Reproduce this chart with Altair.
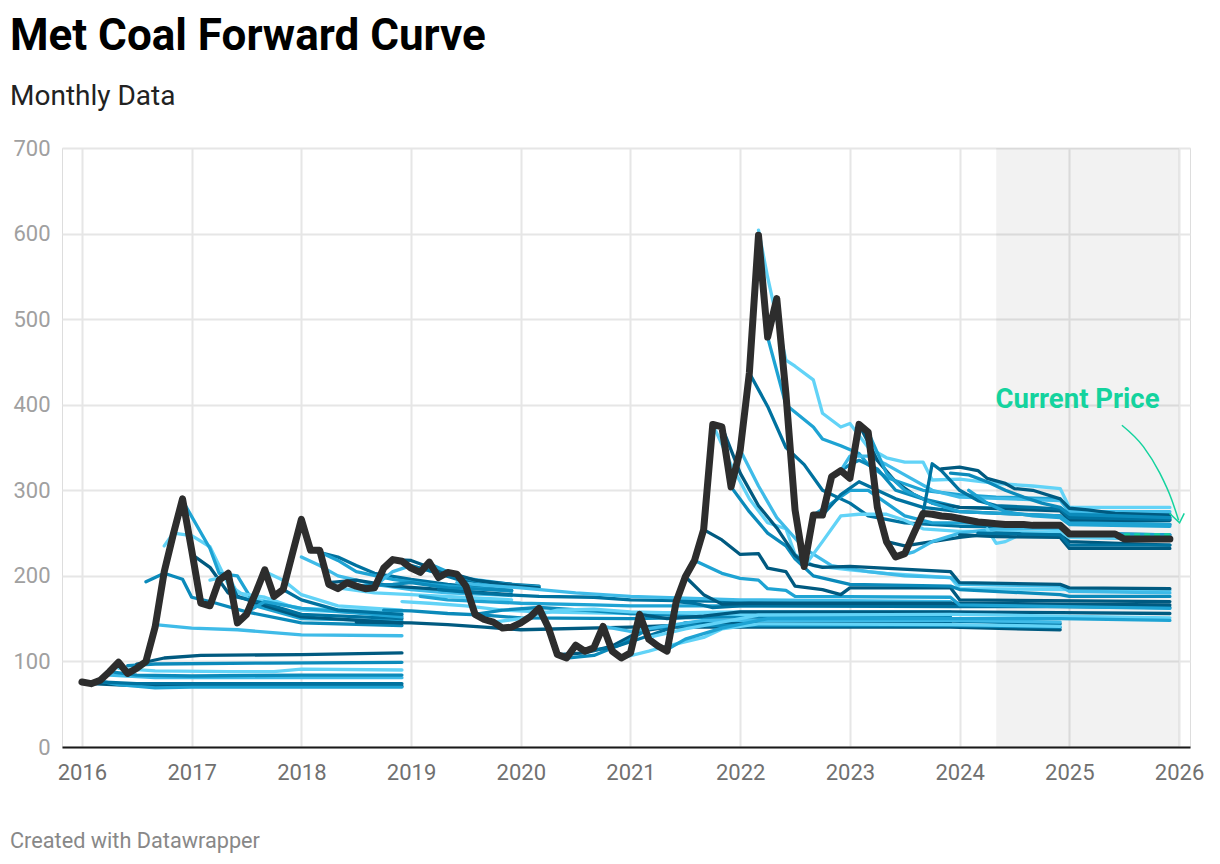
import altair as alt
import pandas as pd

TITLE = "Met Coal Forward Curve"
SUBTITLE = "Monthly Data"
FOOTER = "Created with Datawrapper"
ANNOTATION = "Current Price"

START_YEAR = 2016  # month index 0 = Jan 2016

# Spot / current price (black line), one value per month from Jan 2016
SPOT = [
    76, 74, 78, 88, 99, 86, 92, 100, 140, 205, 249, 290,
    230, 168, 165, 195, 203, 145, 155, 180, 207, 176, 184, 225,
    266, 230, 230, 190, 185, 192, 188, 185, 186, 209, 219, 217,
    209, 204, 216, 198, 204, 202, 188, 155, 149, 146, 139, 140,
    145, 152, 162, 140, 108, 104, 119, 112, 116, 141, 112, 104,
    110, 155, 126, 118, 112, 170, 199, 218, 254, 377, 374, 304,
    347, 437, 598, 479, 524, 413, 277, 211, 271, 271, 316, 323,
    314, 377, 368, 280, 240, 222, 226, 250, 273, 272, 270, 269,
    267, 265, 263, 262, 261, 260, 260, 260, 259, 259, 259, 259,
    249, 249, 249, 249, 249, 249, 243, 243, 243, 243, 243, 243,
]

# Forward curves: month indices and prices at the points where each curve bends
CURVE_MONTHS = [
    [1, 5, 12, 35], [2, 4, 8, 12, 35], [2, 6, 35], [3, 8, 20, 35],
    [3, 6, 12, 24, 35], [4, 8, 16, 21, 24, 35], [5, 8, 20, 35], [6, 9, 13, 24, 35],
    [8, 12, 17, 24, 35], [7, 9, 11, 12, 14, 18, 24, 35], [9, 10, 12, 14, 16, 18, 24, 35],
    [11, 14, 15, 17, 19, 24, 35], [12, 14, 16, 20, 24, 35], [14, 16, 17, 20, 24, 35],
    [16, 17, 20, 24, 35], [18, 20, 24, 35], [20, 22, 24, 28, 35], [22, 24, 28, 35],
    [24, 26, 28, 32, 36, 40, 47], [25, 28, 30, 32, 36, 40, 47], [26, 28, 30, 34, 38, 47],
    [27, 30, 34, 38, 47], [28, 32, 36, 47], [30, 34, 36, 40, 47], [32, 34, 36, 40, 47],
    [34, 36, 39, 42, 47],
    [36, 38, 41, 44, 50], [38, 41, 44, 50], [40, 43, 46, 50],
    [30, 36, 40, 44, 48, 60, 72, 95], [33, 36, 40, 44, 48, 60, 72, 95],
    [35, 38, 42, 46, 50, 60, 72, 95], [37, 40, 44, 48, 56, 60, 72, 95],
    [39, 42, 46, 50, 56, 60, 72, 95], [41, 44, 48, 54, 60, 72, 95],
    [43, 46, 50, 56, 60, 72, 95], [45, 48, 52, 56, 60, 72, 95],
    [52, 55, 58, 61, 64, 72, 95, 107], [53, 56, 59, 62, 66, 95, 107],
    [55, 58, 62, 66, 72, 95, 107], [57, 60, 63, 68, 95, 107],
    [59, 62, 64, 68, 70, 74, 95, 107],
    [61, 64, 68, 72, 95, 107, 119], [62, 66, 70, 74, 95, 107, 119],
    [64, 66, 70, 75, 95, 107, 119], [65, 67, 69, 72, 95, 107, 119],
    [66, 68, 70, 73, 95, 107, 119], [67, 70, 72, 74, 75, 77, 78, 95, 96, 119],
    [68, 70, 72, 74, 75, 77, 78, 81, 83, 84, 95, 96, 119],
    [69, 71, 73, 75, 77, 78, 80, 84, 88, 95, 96, 119],
    [71, 73, 75, 77, 78, 80, 84, 95, 96, 107, 108, 119],
    [74, 75, 77, 78, 80, 81, 83, 84, 86, 88, 90, 92, 93, 96, 100, 104, 107, 108, 119],
    [75, 77, 80, 81, 83, 85, 86, 88, 92, 96, 100, 107, 108, 119],
    [73, 75, 77, 79, 81, 84, 86, 90, 96, 107, 108, 119],
    [72, 74, 76, 79, 82, 86, 90, 95, 96, 107, 108, 119],
    [70, 72, 74, 76, 78, 79, 81, 84, 95, 96, 107, 108, 119],
    [79, 81, 83, 85, 88, 90, 92, 96, 100, 107, 108, 119],
    [80, 82, 84, 86, 88, 90, 93, 96, 107, 108, 119],
    [81, 83, 85, 87, 89, 92, 96, 107, 108, 119],
    [82, 84, 85, 87, 89, 92, 96, 107, 108, 119],
    [83, 84, 86, 88, 90, 93, 96, 107, 108, 119],
    [85, 87, 89, 91, 93, 96, 107, 108, 119],
    [86, 88, 90, 93, 96, 107, 108, 119],
    [88, 90, 93, 96, 100, 107, 108, 119],
    [89, 91, 93, 96, 100, 107, 108, 119],
    [92, 93, 94, 96, 98, 100, 104, 107, 108, 119],
    [94, 96, 98, 99, 101, 102, 104, 107, 108, 110, 113, 119],
    [95, 97, 99, 101, 103, 105, 107, 108, 119],
    [97, 99, 101, 104, 107, 108, 119],
    [99, 100, 101, 103, 107, 108, 119],
    [96, 100, 107, 108, 119],
    [98, 107, 108, 119],
]
CURVE_VALUES = [
    [74, 72, 71, 71], [77, 73, 69, 70, 70], [76, 74, 74], [84, 81, 81, 81],
    [88, 84, 83, 84, 84], [92, 89, 88, 88, 91, 90], [95, 97, 98, 99], [97, 104, 107, 108, 110],
    [143, 139, 137, 131, 130], [193, 203, 196, 175, 170, 158, 145, 142],
    [235, 250, 247, 234, 190, 175, 162, 158],
    [288, 232, 203, 200, 165, 150, 147], [225, 210, 180, 165, 152, 145], [195, 200, 180, 175, 160, 155],
    [200, 175, 168, 155, 150], [157, 170, 162, 152], [205, 195, 178, 165, 160], [184, 172, 160, 155],
    [222, 212, 200, 190, 184, 180, 177], [230, 222, 212, 203, 196, 190, 183], [228, 218, 205, 196, 190, 182],
    [192, 195, 188, 185, 178], [186, 180, 178, 172], [188, 190, 192, 186, 183], [188, 205, 212, 200, 190],
    [219, 218, 206, 196, 190],
    [212, 206, 196, 192, 188], [214, 200, 192, 187], [204, 195, 190, 186],
    [146, 145, 143, 140, 137, 140, 145, 145], [160, 159, 156, 154, 151, 150, 152, 152],
    [170, 168, 165, 160, 158, 156, 158, 158], [176, 172, 170, 168, 166, 165, 165, 165],
    [184, 181, 178, 176, 175, 172, 170, 168], [192, 189, 186, 180, 176, 172, 170],
    [155, 160, 163, 159, 156, 152, 150], [146, 150, 160, 161, 158, 155, 155],
    [108, 110, 118, 135, 140, 140, 140, 137], [104, 107, 120, 138, 142, 142, 140],
    [112, 116, 130, 145, 148, 147, 144], [141, 135, 140, 148, 148, 146],
    [104, 112, 118, 128, 138, 144, 143, 141],
    [155, 150, 153, 158, 158, 157, 156], [128, 138, 146, 154, 155, 153, 151],
    [114, 126, 139, 150, 150, 150, 148], [170, 168, 163, 165, 164, 164, 163],
    [199, 178, 167, 168, 168, 167, 166], [218, 203, 197, 195, 185, 183, 176, 175, 166, 162],
    [254, 242, 225, 226, 209, 205, 188, 184, 178, 186, 186, 172, 170],
    [377, 330, 290, 262, 255, 225, 212, 207, 203, 198, 185, 183],
    [304, 275, 250, 235, 220, 200, 190, 188, 184, 178, 176, 176],
    [604, 549, 452, 445, 429, 390, 374, 378, 350, 338, 333, 333, 312, 313, 308, 305, 302, 280, 280],
    [479, 400, 374, 360, 352, 343, 330, 315, 300, 295, 292, 290, 275, 272],
    [437, 398, 350, 330, 300, 285, 270, 262, 258, 256, 250, 248],
    [347, 305, 268, 232, 212, 205, 200, 198, 190, 188, 182, 180],
    [374, 320, 282, 256, 224, 215, 210, 211, 205, 192, 190, 186, 185],
    [211, 240, 270, 272, 272, 265, 255, 252, 252, 250, 245, 245],
    [271, 285, 300, 300, 285, 270, 262, 262, 260, 250, 248],
    [271, 295, 310, 300, 290, 280, 275, 270, 262, 260],
    [316, 330, 335, 325, 300, 290, 280, 278, 270, 268],
    [323, 340, 340, 330, 318, 300, 292, 288, 275, 275],
    [377, 335, 310, 295, 285, 280, 276, 265, 265],
    [368, 320, 300, 285, 275, 270, 262, 260],
    [240, 235, 240, 245, 250, 248, 240, 236],
    [222, 228, 240, 250, 255, 255, 245, 243],
    [273, 331, 323, 300, 288, 282, 280, 278, 268, 266],
    [325, 327, 323, 314, 308, 302, 300, 290, 279, 277, 273, 271],
    [320, 318, 310, 300, 292, 285, 280, 272, 268],
    [300, 285, 275, 270, 268, 260, 258],
    [255, 238, 240, 250, 252, 245, 245],
    [248, 246, 245, 232, 232],
    [250, 248, 236, 236],
]
CURVE_SHADES = [
    5, 2, 4, 1, 3, 0, 3, 5, 1, 3, 0, 2, 5, 0, 4, 2, 0, 4,
    1, 4, 2, 5, 0, 3, 1, 5,
    4, 2, 5,
    5, 3, 0, 2, 4, 1, 3, 0,
    5, 3, 4, 1, 0,
    5, 0, 2, 4, 5, 2, 5, 0, 3,
    0, 2, 4, 1, 5,
    0, 2, 4, 3, 1, 5, 2, 5, 1, 4, 5, 3, 2, 0, 5, 4,
]
PALETTE = ["#62d3f7", "#3fbbe8", "#1ea3d3", "#0b8aba", "#00729f", "#005a80"]

SHADE_MONTHS = [100, 120]               # forecast band (May 2024 - end 2025)
CURRENT_MONTHS = [114, 119]             # green dashed current-price segment
CURRENT_VALUES = [248, 248]
ARROW_MONTHS = [113.75, 116.1, 117.9, 119.2, 119.95]
ARROW_VALUES = [376, 351, 320, 289, 265]
ARROWHEAD_MONTHS = [118.96, 120.06, 120.57]
ARROWHEAD_VALUES = [273, 262, 273]
LABEL_MONTH = [108.9]
LABEL_VALUE = [405]

YEAR_TICKS = list(range(2016, 2027))
PRICE_TICKS = [0, 100, 200, 300, 400, 500, 600, 700]

GREEN = "#14d39e"
FONT = "Roboto"


def to_year(m):
    return START_YEAR + m / 12.0


rows = []
for i, (ms, vs) in enumerate(zip(CURVE_MONTHS, CURVE_VALUES)):
    for m, v in zip(ms, vs):
        rows.append({"curve": i, "m": m, "x": to_year(m), "v": v, "shade": CURVE_SHADES[i]})
curves_df = pd.DataFrame(rows)

spot_df = pd.DataFrame({"m": list(range(len(SPOT))), "v": SPOT})
spot_df["x"] = spot_df["m"].map(to_year)

shade_df = pd.DataFrame({"x0": [to_year(SHADE_MONTHS[0])], "x1": [to_year(SHADE_MONTHS[1])]})
current_df = pd.DataFrame({"x": [to_year(m) for m in CURRENT_MONTHS], "v": CURRENT_VALUES})
arrow_df = pd.DataFrame({"x": [to_year(m) for m in ARROW_MONTHS], "v": ARROW_VALUES})
head_df = pd.DataFrame({"x": [to_year(m) for m in ARROWHEAD_MONTHS], "v": ARROWHEAD_VALUES})
label_df = pd.DataFrame({"x": [to_year(m) for m in LABEL_MONTH], "v": LABEL_VALUE, "t": [ANNOTATION]})
footer_df = pd.DataFrame({"t": [FOOTER]})

W, H = 1128, 599
xscale = alt.Scale(domain=[2015.818, 2026.1], nice=False, zero=False)
yscale = alt.Scale(domain=[0, 700], nice=False, zero=True)

xaxis = alt.Axis(values=YEAR_TICKS, format="d", title=None, grid=True, gridColor="#e6e6e6",
                 gridWidth=2, ticks=False, domain=True, domainColor="#1a1a1a", domainWidth=2,
                 labelFont=FONT, labelFontSize=22, labelColor="#707070", labelPadding=15,
                 labelFlush=False)
yaxis = alt.Axis(values=PRICE_TICKS, title=None, grid=True, gridColor="#e6e6e6", gridWidth=2,
                 ticks=False, domain=False, labelFont=FONT, labelFontSize=22,
                 labelColor="#a0a0a0", labelPadding=12)

X = alt.X("x:Q", scale=xscale, axis=xaxis)
Y = alt.Y("v:Q", scale=yscale, axis=yaxis)

shade = alt.Chart(shade_df).mark_rect(color="#000000", opacity=0.05).encode(
    x=alt.X("x0:Q", scale=xscale, axis=xaxis), x2="x1:Q",
    y=alt.value(0), y2=alt.value(H))

lines = alt.Chart(curves_df).mark_line(strokeWidth=3.3, strokeJoin="round", strokeCap="round").encode(
    x=X, y=Y,
    color=alt.Color("shade:N", scale=alt.Scale(domain=list(range(len(PALETTE))), range=PALETTE), legend=None),
    detail="curve:N", order="m:Q")

current = alt.Chart(current_df).mark_line(color=GREEN, strokeWidth=3, strokeDash=[6, 4]).encode(x=X, y=Y)

spot = alt.Chart(spot_df).mark_line(color="#2d2d2d", strokeWidth=7, strokeJoin="round",
                                    strokeCap="round").encode(x=X, y=Y, order="m:Q")

label = alt.Chart(label_df).mark_text(font=FONT, fontSize=27.5, fontWeight="bold", color=GREEN,
                                      align="center", baseline="middle").encode(x=X, y=Y, text="t:N")

arrow = alt.Chart(arrow_df).mark_line(color=GREEN, strokeWidth=1.5, interpolate="monotone").encode(x=X, y=Y)
head = alt.Chart(head_df).mark_line(color=GREEN, strokeWidth=1.5).encode(x=X, y=Y)

footer = alt.Chart(footer_df).mark_text(font=FONT, fontSize=21.7, color="#888888", align="left",
                                        baseline="middle").encode(
    x=alt.value(-52), y=alt.value(H + 94), text="t:N")

chart = alt.layer(shade, lines, current, spot, label, arrow, head, footer).properties(
    width=W, height=H,
    autosize=alt.AutoSizeParams(type="none"),
    padding={"left": 54, "top": 140, "right": 22, "bottom": 109},
    title=alt.TitleParams(text=TITLE, subtitle=SUBTITLE, anchor="start", frame="group", dx=-52,
                          font=FONT, fontSize=44, fontWeight="bold", color="#000000",
                          subtitleFont=FONT, subtitleFontSize=28, subtitleColor="#222222",
                          subtitlePadding=24, offset=26),
).configure_view(stroke=None).configure(background="#ffffff")

chart.save("out.html", embed_options={"renderer": "svg", "actions": False})
